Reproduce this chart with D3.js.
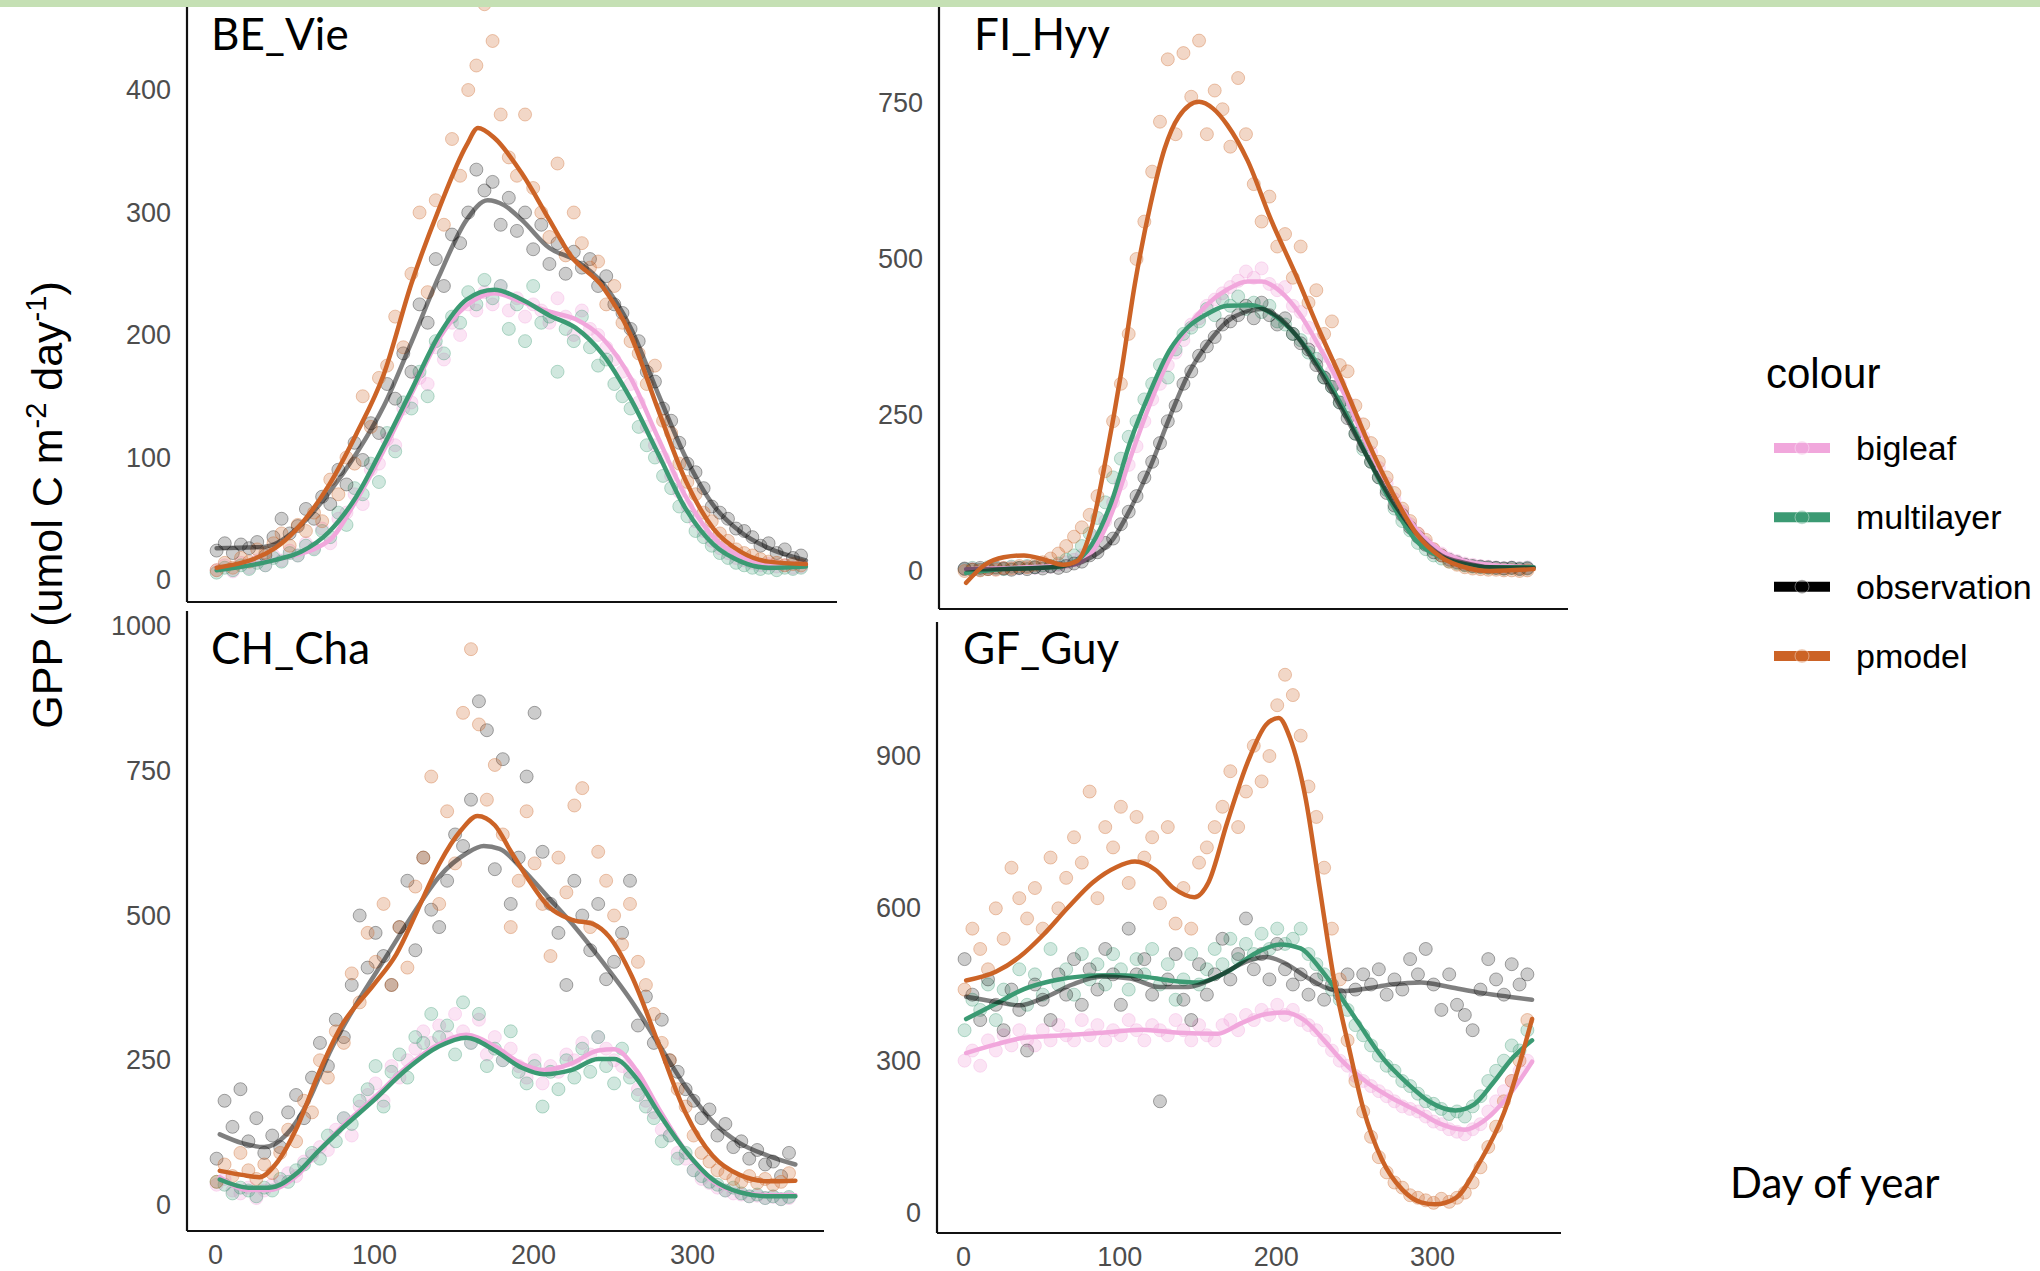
<!DOCTYPE html>
<html>
<head>
<meta charset="utf-8">
<script src="https://cdn.jsdelivr.net/npm/d3@7"></script>
<style>
  body { margin: 0; background: #fff; }
  svg { display: block; }
</style>
</head>
<body>
<svg id="chart" width="2040" height="1271"></svg>
<script>
// sites, series and colours
var sites = ["BE_Vie", "FI_Hyy", "CH_Cha", "GF_Guy"];
var seriesNames = ["bigleaf", "multilayer", "observation", "pmodel"];
var seriesColors = ["#f1a7dc", "#3b9a73", "#000000", "#cc6326"];
var xTicks = [0, 100, 200, 300];
var yTicksBE = [0, 100, 200, 300, 400];
var yTicksFI = [0, 250, 500, 750];
var yTicksCH = [0, 250, 500, 750, 1000];
var yTicksGF = [0, 300, 600, 900];

var pointDays = d3.range(1, 362, 5);

var beVieBigleaf = [8,12,7,14,10,16,12,20,16,24, 20,30,26,42,30,50,55,70,62,90,
  95,115,110,140,145,165,160,190,180,210, 200,225,220,235,225,240,220,230,215,225,
  220,210,230,215,200,220,205,200,190,180, 170,160,145,125,110,100,85,72,60,48,
  40,32,26,22,18,16,14,12,13,11, 12,10,11];
var beVieMultilayer = [6,10,8,12,9,14,12,18,15,22, 20,28,25,40,35,55,45,75,70,95,
  80,120,105,145,140,170,150,195,185,215, 210,235,225,245,230,240,205,225,195,240,
  210,215,170,205,195,215,190,175,180,160, 150,140,125,110,100,85,75,60,52,40,
  35,28,22,18,14,12,10,9,10,8, 10,9,10];
var beVieObservation = [24,30,22,29,26,31,20,35,50,38, 44,58,50,68,62,90,78,112,98,128,
  120,160,148,185,170,225,210,262,240,282, 275,300,335,318,325,290,312,285,300,270,
  290,258,275,250,268,255,262,240,248,225, 218,205,195,170,162,140,130,112,95,88,
  75,60,55,50,42,40,35,28,30,22, 25,18,20];
var beViePmodel = [8,14,10,18,15,25,22,30,38,28, 45,40,55,48,82,70,100,95,150,125,
  165,175,215,190,250,300,235,310,290,360, 330,400,420,470,440,380,345,330,380,320,
  300,280,340,265,300,275,255,260,225,240, 210,195,185,160,175,130,120,95,80,70,
  55,48,38,32,25,22,20,17,15,14, 12,13,12];

var fiHyyBigleaf = [3,4,2,5,3,4,6,4,7,5, 8,7,10,14,18,25,35,55,80,110,
  140,170,200,240,275,300,330,350,370,395, 405,425,435,445,455,465,480,470,485,460,
  450,455,425,415,390,370,345,320,300,270, 240,215,190,165,140,115,95,75,60,45,
  35,28,20,16,12,10,8,7,6,5, 6,5,6];
var fiHyyMultilayer = [3,5,2,6,4,3,7,5,8,6, 9,8,12,18,25,40,60,85,110,150,
  180,215,240,275,300,330,310,355,380,390, 400,420,410,435,425,440,420,430,415,425,
  400,395,380,370,350,340,310,295,270,255, 220,195,175,150,130,100,80,65,45,35,
  25,20,15,12,9,7,6,5,5,4, 5,4,5];
var fiHyyObservation = [4,2,5,3,6,4,2,5,3,6, 4,7,5,8,12,15,25,30,45,52,
  75,95,120,150,175,205,240,265,300,320, 345,360,375,395,400,410,425,405,430,410,
  395,405,380,365,355,330,310,295,270,245, 220,200,175,150,125,105,90,70,55,42,
  30,25,18,14,10,8,7,6,5,4, 5,3,4];
var fiHyyPmodel = [0,2,1,3,2,5,4,8,6,10, 14,20,28,40,55,70,90,120,160,240,
  300,380,500,560,640,720,820,700,830,760, 850,700,770,740,680,790,700,620,560,600,
  520,540,470,520,430,450,380,400,330,320, 265,235,205,175,150,125,100,80,60,50,
  35,25,15,10,6,4,3,2,2,1, 1,0,1];

var chChaBigleaf = [35,45,25,20,30,12,25,35,40,55, 50,75,85,100,95,130,150,120,170,190,
  210,180,240,220,250,270,300,280,310,290, 330,300,280,320,260,290,250,270,240,220,
  250,210,240,230,260,250,280,260,290,270, 250,240,230,200,180,160,130,120,90,80,
  60,45,38,30,25,20,18,15,16,12, 14,10,12];
var chChaMultilayer = [40,35,20,30,25,15,30,25,45,40, 60,70,90,80,120,110,150,140,180,200,
  240,170,230,260,220,290,280,330,290,310, 260,350,280,330,240,270,250,300,230,210,
  240,170,230,200,250,220,270,230,290,240, 210,270,220,190,170,150,110,120,80,90,
  60,50,40,35,25,30,20,15,18,12, 15,10,14];
var chChaObservation = [80,180,135,200,110,150,90,120,100,160, 190,150,220,280,240,320,290,380,500,410,
  470,430,380,480,560,440,600,510,480,560, 640,620,700,870,820,580,770,520,600,740,
  850,610,520,470,380,560,500,440,520,390, 420,470,560,310,360,280,320,250,230,200,
  180,150,165,120,140,100,110,80,95,70, 75,50,90];
var chChaPmodel = [40,70,50,90,60,45,70,55,90,130, 110,180,160,250,220,300,280,400,350,470,
  420,520,380,480,410,550,600,740,520,680, 590,850,960,830,700,760,640,480,560,680,
  590,520,430,600,540,690,720,480,610,560, 500,450,520,420,380,330,280,250,200,170,
  120,90,75,60,55,45,40,50,38,45, 35,40,55];

var gfGuyBigleaf = [300,320,290,340,320,350,330,360,340,330, 360,340,370,350,340,380,350,370,340,360,
  350,380,360,340,370,360,350,380,360,340, 370,350,340,370,380,360,390,380,400,390,
  410,390,400,380,370,360,340,320,300,290, 270,260,250,240,230,220,210,205,200,190,
  180,175,165,160,155,165,175,200,220,240, 260,280,300];
var gfGuyMultilayer = [360,420,400,450,380,440,420,480,410,470, 430,520,450,480,430,510,460,490,450,510,
  480,440,500,470,520,450,490,420,460,510, 450,480,520,490,540,500,530,510,550,520,
  560,530,540,560,510,490,470,440,420,400, 370,350,330,310,290,280,260,250,235,220,
  215,205,195,200,190,210,230,260,280,300, 330,320,360];
var gfGuyObservation = [500,430,380,460,410,360,440,400,320,450, 420,380,470,430,500,410,480,440,520,470,
  410,560,470,500,430,220,460,510,420,380, 490,430,470,540,460,510,580,480,510,460,
  530,480,450,470,430,460,420,450,430,470, 440,470,450,480,430,460,440,500,470,520,
  450,400,470,410,390,360,440,500,460,430, 490,450,470];
var gfGuyPmodel = [440,560,520,480,600,540,680,620,580,640, 560,700,600,660,740,690,830,620,760,720,
  800,650,780,700,740,610,760,570,640,560, 690,720,760,800,870,760,830,920,850,900,
  1000,1060,1020,940,840,780,680,560,460,340, 260,200,150,110,80,60,50,35,30,25,
  20,28,22,30,40,60,90,130,170,220, 260,300,380];

// smoothed fits, [day, GPP]
var beVieBigleafFit = [[1,10],[36,16],[70,32],[87,65],[104,106],[121,152],[138,197],[155,224],[172,234],[189,227],[206,219],[222,213],[239,197],[256,165],[273,116],[290,68],[307,35],[324,19],[341,13],[364,13]];
var beVieMultilayerFit = [[1,8],[36,16],[53,23],[70,39],[87,68],[104,110],[121,155],[138,200],[155,229],[172,237],[189,229],[206,216],[222,206],[239,184],[256,148],[273,103],[290,58],[307,29],[324,15],[341,10],[364,11]];
var beVieObservationFit = [[1,26],[30,27],[53,45],[70,71],[87,103],[104,142],[121,194],[138,248],[155,294],[168,310],[178,306],[189,294],[206,271],[222,261],[239,242],[256,206],[273,152],[290,100],[307,61],[324,39],[341,26],[364,16]];
var beViePmodelFit = [[1,10],[37,26],[70,77],[87,119],[104,168],[121,242],[138,303],[155,355],[162,369],[172,361],[189,332],[206,294],[219,265],[239,239],[256,200],[273,139],[290,81],[307,42],[324,23],[341,15],[364,13]];

var fiHyyBigleafFit = [[2,3],[70,10],[82,29],[95,92],[107,181],[120,270],[132,340],[144,391],[157,429],[169,451],[182,464],[191,464],[203,448],[216,410],[228,359],[244,283],[259,200],[275,124],[290,67],[306,32],[321,16],[337,10],[365,6]];
var fiHyyMultilayerFit = [[2,-3],[26,3],[57,6],[70,13],[82,41],[95,111],[107,207],[120,289],[132,353],[144,391],[157,413],[169,425],[185,426],[197,413],[213,378],[228,327],[244,257],[259,181],[275,105],[290,48],[306,22],[321,11],[337,6],[365,6]];
var fiHyyObservationFit = [[2,3],[40,4],[70,10],[82,22],[95,48],[107,99],[120,168],[132,245],[144,315],[157,366],[169,400],[182,416],[191,420],[200,410],[213,378],[228,321],[244,251],[259,181],[275,111],[290,60],[306,25],[321,13],[337,6],[365,5]];
var fiHyyPmodelFit = [[2,-19],[14,10],[26,22],[39,25],[51,19],[64,10],[73,16],[82,67],[92,188],[101,315],[110,461],[120,588],[129,677],[138,728],[151,752],[160,741],[169,715],[182,658],[197,563],[213,474],[228,385],[244,296],[259,207],[275,124],[290,60],[306,22],[321,6],[337,0],[365,3]];

var chChaBigleafFit = [[3,48],[21,26],[34,26],[52,52],[65,93],[79,133],[100,185],[120,237],[141,278],[158,294],[176,274],[193,244],[207,233],[224,244],[241,267],[251,269],[265,233],[279,167],[296,93],[313,41],[330,22],[348,17],[365,17]];
var chChaMultilayerFit = [[3,44],[21,30],[34,30],[52,56],[65,93],[79,130],[100,181],[120,233],[141,274],[158,289],[176,267],[193,237],[207,226],[224,233],[241,252],[251,252],[265,219],[279,159],[296,93],[313,44],[330,22],[348,15],[365,15]];
var chChaObservationFit = [[3,122],[17,107],[31,100],[45,122],[59,181],[72,263],[90,352],[107,426],[124,500],[141,567],[158,607],[169,620],[179,615],[193,581],[210,530],[227,478],[244,419],[262,352],[279,278],[296,204],[313,144],[330,107],[348,85],[365,70]];
var chChaPmodelFit = [[3,59],[17,52],[28,48],[38,70],[52,137],[65,226],[79,307],[100,381],[114,433],[127,507],[141,589],[155,648],[165,672],[176,656],[186,611],[196,567],[210,515],[224,493],[238,485],[248,463],[262,396],[279,278],[296,159],[313,85],[330,52],[348,41],[365,42]];

var gfGuyBigleafFit = [[2,315],[21,332],[39,345],[64,350],[89,355],[114,361],[138,355],[163,353],[178,374],[194,392],[206,395],[219,378],[231,340],[243,298],[259,256],[274,227],[290,202],[305,176],[321,164],[333,181],[349,231],[364,298]];
var gfGuyMultilayerFit = [[2,382],[21,412],[39,441],[58,458],[76,466],[95,468],[114,466],[132,458],[151,454],[169,475],[188,513],[203,529],[216,521],[228,483],[240,433],[253,374],[268,307],[284,256],[299,218],[315,202],[327,214],[339,256],[352,307],[364,340]];
var gfGuyObservationFit = [[2,426],[21,416],[36,409],[52,424],[70,450],[89,466],[107,462],[126,445],[144,445],[163,466],[182,496],[194,504],[206,492],[219,466],[231,445],[243,437],[256,441],[274,450],[293,454],[311,445],[330,434],[349,426],[364,420]];
var gfGuyPmodelFit = [[2,458],[21,475],[36,504],[52,550],[67,601],[83,651],[98,681],[110,692],[123,676],[135,639],[148,622],[157,651],[169,769],[182,887],[194,962],[202,975],[209,937],[219,819],[228,643],[237,466],[247,324],[256,206],[268,105],[281,46],[293,21],[302,17],[315,29],[330,97],[346,197],[364,382]];

// lookups built from the arrays above
var pointsBySite = {
  BE_Vie: [beVieBigleaf, beVieMultilayer, beVieObservation, beViePmodel],
  FI_Hyy: [fiHyyBigleaf, fiHyyMultilayer, fiHyyObservation, fiHyyPmodel],
  CH_Cha: [chChaBigleaf, chChaMultilayer, chChaObservation, chChaPmodel],
  GF_Guy: [gfGuyBigleaf, gfGuyMultilayer, gfGuyObservation, gfGuyPmodel]
};
var fitsBySite = {
  BE_Vie: [beVieBigleafFit, beVieMultilayerFit, beVieObservationFit, beViePmodelFit],
  FI_Hyy: [fiHyyBigleafFit, fiHyyMultilayerFit, fiHyyObservationFit, fiHyyPmodelFit],
  CH_Cha: [chChaBigleafFit, chChaMultilayerFit, chChaObservationFit, chChaPmodelFit],
  GF_Guy: [gfGuyBigleafFit, gfGuyMultilayerFit, gfGuyObservationFit, gfGuyPmodelFit]
};
var yTicksBySite = { BE_Vie: yTicksBE, FI_Hyy: yTicksFI, CH_Cha: yTicksCH, GF_Guy: yTicksGF };

// panel placement (pixels)
var layout = [
  { left: 187, right: 837, top: 7, bottom: 602, xRange: [215, 702], yDomain: [0, 400], yRange: [580, 90], xLabels: false, titleX: 211, titleY: 50 },
  { left: 939, right: 1568, top: 7, bottom: 609, xRange: [963, 1432], yDomain: [0, 750], yRange: [571, 103], xLabels: false, titleX: 974, titleY: 50 },
  { left: 187, right: 824, top: 611, bottom: 1231, xRange: [215, 692], yDomain: [0, 1000], yRange: [1205, 626], xLabels: true, titleX: 211, titleY: 664 },
  { left: 937, right: 1561, top: 622, bottom: 1233, xRange: [963, 1432], yDomain: [0, 900], yRange: [1213, 756], xLabels: true, titleX: 963, titleY: 664 }
];

var pointFill = [0.3, 0.24, 0.2, 0.26];
var pointStroke = [0.35, 0.35, 0.32, 0.35];

var svg = d3.select("#chart");
var defs = svg.append("defs");
var tickFont = "'Liberation Sans', Arial, sans-serif";

sites.forEach(function(site, k) {
  var p = layout[k];
  var x = d3.scaleLinear().domain([0, 300]).range(p.xRange);
  var y = d3.scaleLinear().domain(p.yDomain).range(p.yRange);

  defs.append("clipPath").attr("id", "clip" + k)
    .append("rect")
    .attr("x", p.left).attr("y", p.top)
    .attr("width", p.right - p.left).attr("height", p.bottom - p.top);

  var g = svg.append("g");
  var plot = g.append("g").attr("clip-path", "url(#clip" + k + ")");

  // points
  seriesNames.forEach(function(s, j) {
    plot.append("g")
      .selectAll("circle")
      .data(pointsBySite[site][j])
      .join("circle")
      .attr("cx", function(v, i) { return x(pointDays[i]); })
      .attr("cy", function(v) { return y(v); })
      .attr("r", 6.5)
      .attr("fill", seriesColors[j])
      .attr("fill-opacity", pointFill[j])
      .attr("stroke", seriesColors[j])
      .attr("stroke-opacity", pointStroke[j])
      .attr("stroke-width", 1);
  });

  // smooth lines on top
  var line = d3.line()
    .x(function(d) { return x(d[0]); })
    .y(function(d) { return y(d[1]); })
    .curve(d3.curveMonotoneX);

  seriesNames.forEach(function(s, j) {
    plot.append("path")
      .datum(fitsBySite[site][j])
      .attr("d", line)
      .attr("fill", "none")
      .attr("stroke", seriesColors[j])
      .attr("stroke-opacity", s === "observation" ? 0.5 : 1)
      .attr("stroke-width", 4.5)
      .attr("stroke-linecap", "round");
  });

  // y axis labels, no ticks
  var ya = g.append("g")
    .attr("transform", "translate(" + p.left + ",0)")
    .call(d3.axisLeft(y).tickValues(yTicksBySite[site]).tickFormat(d3.format("d")).tickSize(0).tickPadding(16));
  ya.select(".domain").remove();
  ya.attr("font-family", tickFont).attr("font-size", 27);
  ya.selectAll("text").attr("fill", "#4d4d4d");

  if (p.xLabels) {
    var xa = g.append("g")
      .attr("transform", "translate(0," + p.bottom + ")")
      .call(d3.axisBottom(x).tickValues(xTicks).tickFormat(d3.format("d")).tickSize(0).tickPadding(14));
    xa.select(".domain").remove();
    xa.attr("font-family", tickFont).attr("font-size", 27);
    xa.selectAll("text").attr("fill", "#4d4d4d");
  }

  // axis lines
  g.append("line")
    .attr("x1", p.left).attr("x2", p.left)
    .attr("y1", p.top).attr("y2", p.bottom)
    .attr("stroke", "#111").attr("stroke-width", 2.2);
  g.append("line")
    .attr("x1", p.left).attr("x2", p.right)
    .attr("y1", p.bottom).attr("y2", p.bottom)
    .attr("stroke", "#111").attr("stroke-width", 2.2);

  // site title
  g.append("text")
    .attr("x", p.titleX).attr("y", p.titleY)
    .attr("font-family", "Lato, 'Open Sans', sans-serif")
    .attr("font-size", 44)
    .attr("fill", "#000")
    .text(site);
});

// y axis title with superscripts
var yTitle = svg.append("text")
  .attr("transform", "translate(62,505) rotate(-90)")
  .attr("text-anchor", "middle")
  .attr("font-family", tickFont)
  .attr("font-size", 43)
  .attr("fill", "#000");
yTitle.append("tspan").text("GPP (umol C m");
yTitle.append("tspan").attr("dy", -16).attr("font-size", 29).text("-2");
yTitle.append("tspan").attr("dy", 16).text(" day");
yTitle.append("tspan").attr("dy", -16).attr("font-size", 29).text("-1");
yTitle.append("tspan").attr("dy", 16).text(")");

// x axis title
svg.append("text")
  .attr("x", 1730).attr("y", 1198)
  .attr("font-family", "Lato, 'Open Sans', sans-serif")
  .attr("font-size", 42)
  .attr("fill", "#000")
  .text("Day of year");

// legend
var legend = svg.append("g");
legend.append("text")
  .attr("x", 1766).attr("y", 388)
  .attr("font-family", tickFont)
  .attr("font-size", 42)
  .attr("fill", "#000")
  .text("colour");

var rowY = d3.scalePoint().domain(seriesNames).range([448, 656]);

seriesNames.forEach(function(s, j) {
  var cy = rowY(s);
  legend.append("line")
    .attr("x1", 1774).attr("x2", 1830)
    .attr("y1", cy).attr("y2", cy)
    .attr("stroke", seriesColors[j])
    .attr("stroke-width", 10);
  legend.append("circle")
    .attr("cx", 1802).attr("cy", cy).attr("r", 7)
    .attr("fill", seriesColors[j]).attr("fill-opacity", 0.4)
    .attr("stroke", "#fff").attr("stroke-opacity", 0.4);
  legend.append("text")
    .attr("x", 1856).attr("y", cy)
    .attr("dy", "0.35em")
    .attr("font-family", tickFont)
    .attr("font-size", 34)
    .attr("fill", "#000")
    .text(s);
});

// light green band across the top
svg.append("rect")
  .attr("x", 0).attr("y", 0)
  .attr("width", 2040).attr("height", 7)
  .attr("fill", "#c5e0b4");
</script>
</body>
</html>
